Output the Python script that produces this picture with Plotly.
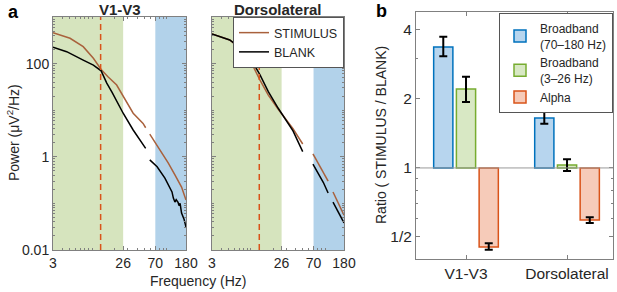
import plotly.graph_objects as go

# ---------------- Panel a data ----------------
# V1-V3 (None marks removed line-noise frequencies)
v1_freq_stim = [3, 5.07, 7.6, 10.4, 13.2, 16.3, 21.3, 26, 35.4, 48, 52, None, 59, 81, 104, 128, 157, 180]
v1_stim      = [460, 349, 231, 130, 75, 52, 34.7, 20, 8.6, 5.2, 4.2, None, 3.08, 1.4, 0.74, 0.41, 0.224, 0.118]
v1_freq_blank = [3, 4.57, 7.6, 10.4, 13.2, 15.7, 18.5, 26, 35.4, 48, 52, None,
                 59, 74, 94, 117, 122, 128, 133, 141, 145, 150, 157, 165, 170, 180]
v1_blank      = [224, 180, 119, 93, 70, 38, 24, 8.6, 3.76, 1.79, 1.52, None,
                 0.86, 0.61, 0.35, 0.176, 0.13, 0.107, 0.12, 0.105, 0.09, 0.1, 0.062, 0.052, 0.045, 0.031]

# Dorsolateral
dl_freq = [3, 5.2, 7.9, 10.8, 13.3, 17.2, 23.4, 33.4, 37, 50, None, 68.7, 80, 95, 110, None, 128, 150, 180]
dl_stim  = [431, 321, 185, 86, 44, 21, 10.5, 4.8, 4.0, 1.88, None, 1.15, 0.75, 0.47, 0.30, None, 0.176, 0.10, 0.056]
dl_blank = [431, 321, 195, 101, 57, 25, 11, 4.6, 3.6, 1.29, None, 0.70, 0.45, 0.28, 0.167, None, 0.107, 0.065, 0.038]

low_band = [3, 26]       # Hz, broadband low
high_band = [70, 180]    # Hz, broadband high
alpha_peak = 13          # Hz

freq_ticks = [3, 26, 70, 180]
power_ticks = [0.01, 1, 100]
power_ticklabels = ["0.01", "1", "100"]

# ---------------- Panel b data ----------------
regions = ["V1-V3", "Dorsolateral"]
series_names = ["Broadband<br>(70–180 Hz)", "Broadband<br>(3–26 Hz)", "Alpha"]
ratio_high = [3.37, 1.65]
ratio_high_lo = [3.07, 1.56]
ratio_high_hi = [3.73, 1.77]
ratio_low = [2.21, 1.03]
ratio_low_lo = [1.94, 0.97]
ratio_low_hi = [2.50, 1.09]
ratio_alpha = [0.452, 0.593]
ratio_alpha_lo = [0.44, 0.575]
ratio_alpha_hi = [0.47, 0.61]
ratio_ticks = [0.5, 1, 2, 4]
ratio_ticklabels = ["1/2", "1", "2", "4"]

# ---------------- styling ----------------
W, H = 617, 292
FONT = "Liberation Sans, Arial, sans-serif"
TXT = "#262626"
AX = "#808080"
BROWN = "#a9613c"
ORANGE = "#d95319"
GREEN_BAND = "#d6e4be"
BLUE_BAND = "#b2d2ea"

def px_x(p):
    return p / W

def px_y(p):
    return 1 - p / H

fig = go.Figure()

# panel a traces
fig.add_trace(go.Scatter(x=v1_freq_stim, y=v1_stim, mode="lines", line=dict(color=BROWN, width=1.5),
                         xaxis="x", yaxis="y", showlegend=False, connectgaps=False))
fig.add_trace(go.Scatter(x=v1_freq_blank, y=v1_blank, mode="lines", line=dict(color="black", width=1.5),
                         xaxis="x", yaxis="y", showlegend=False, connectgaps=False))
fig.add_trace(go.Scatter(x=dl_freq, y=dl_stim, mode="lines", line=dict(color=BROWN, width=1.5),
                         xaxis="x2", yaxis="y2", name="STIMULUS", legend="legend2", connectgaps=False))
fig.add_trace(go.Scatter(x=dl_freq, y=dl_blank, mode="lines", line=dict(color="black", width=1.5),
                         xaxis="x2", yaxis="y2", name="BLANK", legend="legend2", connectgaps=False))

# panel b bars
bar_specs = [
    (series_names[0], ratio_high, ratio_high_lo, ratio_high_hi, "#b7d5ee", "#0072bd"),
    (series_names[1], ratio_low, ratio_low_lo, ratio_low_hi, "#d8e8c4", "#77ac30"),
    (series_names[2], ratio_alpha, ratio_alpha_lo, ratio_alpha_hi, "#f6cbb9", ORANGE),
]
for name, vals, lo, hi, fill, edge in bar_specs:
    fig.add_trace(go.Bar(
        x=regions, y=[v - 1 for v in vals], base=[1] * len(vals), name=name,
        marker=dict(color=fill, line=dict(color=edge, width=1.5)),
        error_y=dict(type="data", symmetric=False,
                     array=[h - v for h, v in zip(hi, vals)],
                     arrayminus=[v - l for v, l in zip(vals, lo)],
                     color="black", thickness=2, width=4),
        xaxis="x3", yaxis="y3", legend="legend",
    ))

shapes = []
for xa, ya in (("x", "y"), ("x2", "y2")):
    shapes.append(dict(type="rect", xref=xa, yref=ya + " domain", x0=low_band[0], x1=low_band[1],
                       y0=0, y1=1, fillcolor=GREEN_BAND, line=dict(width=0), layer="below"))
    shapes.append(dict(type="rect", xref=xa, yref=ya + " domain", x0=high_band[0], x1=high_band[1],
                       y0=0, y1=1, fillcolor=BLUE_BAND, line=dict(width=0), layer="below"))
    shapes.append(dict(type="line", xref=xa, yref=ya + " domain", x0=alpha_peak, x1=alpha_peak,
                       y0=0, y1=1, line=dict(color=ORANGE, width=1.5, dash="6px,4px"), layer="above"))
shapes.append(dict(type="line", xref="x3 domain", yref="y3", x0=0, x1=1, y0=1, y1=1,
                   line=dict(color="#9a9a9a", width=1), layer="above"))

minor_x = [4, 5, 6, 7, 8, 9, 10, 20, 30, 40, 50, 60, 80, 90, 100]
minor_y = [m * 10 ** e for e in (-2, -1, 0, 1, 2) for m in range(2, 10)] + [0.1, 10]
minor_b = [0.6, 0.7, 0.8, 0.9, 3]

common_axis = dict(showline=True, linecolor=AX, linewidth=1, mirror="ticks", ticks="inside",
                   tickcolor=AX, ticklen=4, showgrid=False, zeroline=False, automargin=False,
                   tickfont=dict(family=FONT, size=14, color=TXT))

xa_common = dict(common_axis, type="log", range=[0.4771, 2.2553], tickvals=freq_ticks,
                 ticktext=[str(t) for t in freq_ticks],
                 minor=dict(tickvals=minor_x, ticks="inside", ticklen=2, tickcolor=AX))
ya_common = dict(common_axis, type="log", range=[-2, 3],
                 minor=dict(tickvals=minor_y, ticks="inside", ticklen=2, tickcolor=AX))

def ann(text, x, y, size, angle=0, color=TXT):
    return dict(text=text, x=px_x(x), y=px_y(y), xref="paper", yref="paper", showarrow=False,
                xanchor="center", yanchor="middle", textangle=angle,
                font=dict(family=FONT, size=size, color=color))

fig.update_layout(
    template="none",
    width=W, height=H, margin=dict(l=0, r=0, t=0, b=0, autoexpand=False),
    paper_bgcolor="white", plot_bgcolor="white",
    font=dict(family=FONT, size=14, color=TXT),
    xaxis=dict(xa_common, domain=[px_x(53), px_x(186)], anchor="y"),
    yaxis=dict(ya_common, domain=[px_y(250), px_y(17)], anchor="x",
               tickvals=power_ticks, ticktext=power_ticklabels),
    xaxis2=dict(xa_common, domain=[px_x(212), px_x(344)], anchor="y2"),
    yaxis2=dict(ya_common, domain=[px_y(250), px_y(17)], anchor="x2",
                tickvals=power_ticks, showticklabels=False),
    xaxis3=dict(common_axis, domain=[px_x(416), px_x(613)], anchor="y3", type="category",
                range=[-0.495, 1.455], tickfont=dict(family=FONT, size=15.5, color=TXT)),
    yaxis3=dict(common_axis, domain=[px_y(259), px_y(12)], anchor="x3", type="log",
                range=[-0.397, 0.680], tickvals=ratio_ticks, ticktext=ratio_ticklabels,
                tickfont=dict(family=FONT, size=15.5, color=TXT),
                minor=dict(tickvals=minor_b, ticks="inside", ticklen=2, tickcolor=AX)),
    barmode="group", bargap=0.325, bargroupgap=0.155,
    legend=dict(x=px_x(613), y=px_y(13), xanchor="right", yanchor="top",
                bordercolor="#555", borderwidth=1, bgcolor="white", itemwidth=30,
                font=dict(family=FONT, size=12, color=TXT), tracegroupgap=0),
    legend2=dict(x=px_x(344), y=px_y(17), xanchor="right", yanchor="top",
                 bordercolor="#555", borderwidth=1, bgcolor="white", itemwidth=30,
                 font=dict(family=FONT, size=12.5, color=TXT)),
    shapes=shapes,
    annotations=[
        ann("<b>a</b>", 13, 12, 18, color="black"),
        ann("<b>b</b>", 381, 11, 18, color="black"),
        ann("<b>V1-V3</b>", 120, 9, 15),
        ann("<b>Dorsolateral</b>", 278, 9, 15),
        ann("Frequency (Hz)", 198, 281, 14),
        ann("Power (μV<sup>2</sup>/Hz)", 13, 133, 14, angle=-90),
        ann("Ratio ( STIMULUS / BLANK)", 381, 135, 14, angle=-90),
    ],
)

fig.write_html("out.html", config={"displayModeBar": False},
               post_script="document.body.style.margin='0';document.body.style.overflow='hidden';")
